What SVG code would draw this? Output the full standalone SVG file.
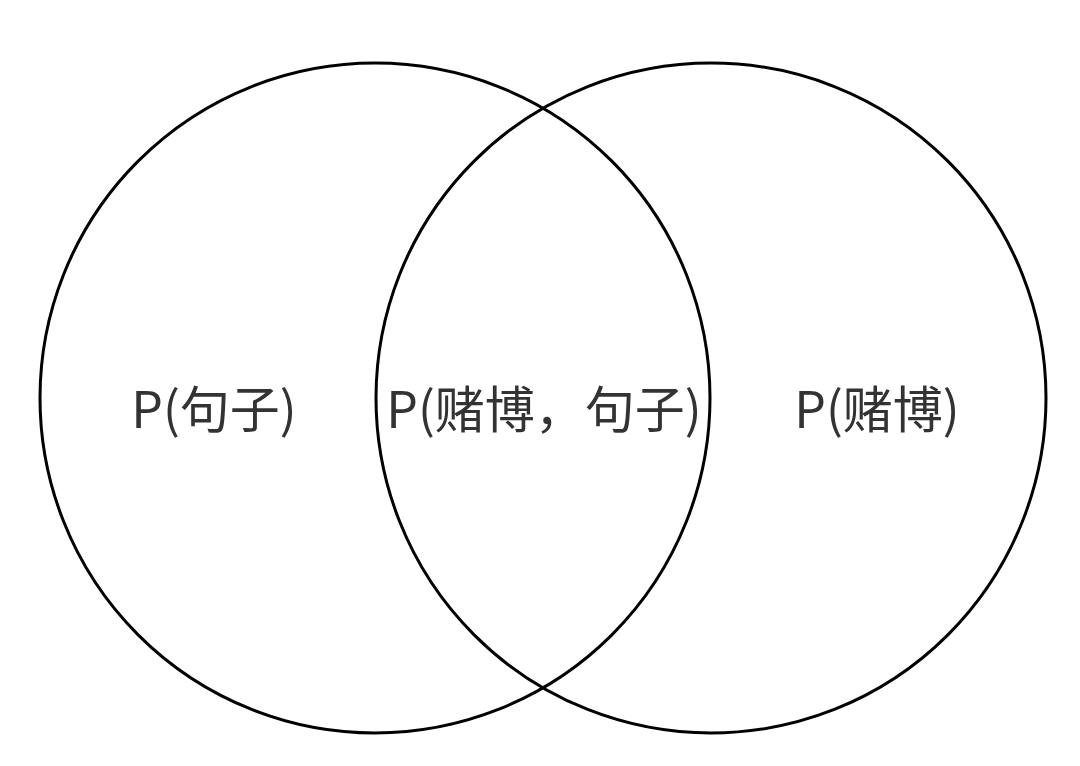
<svg xmlns="http://www.w3.org/2000/svg" width="1080" height="766" viewBox="0 0 1080 766">
<style>
.c{fill:none;stroke:#000;stroke-width:3}
.t{font-family:"Noto Sans CJK SC","Liberation Sans",sans-serif;font-size:50px;font-weight:400;fill:#333;text-anchor:middle}
</style>
<rect width="1080" height="766" fill="#fff"/>
<g id="left"><circle class="c" cx="375" cy="398" r="335"/><text class="t" x="214" y="428">P(句子)</text></g>
<g id="right"><circle class="c" cx="711" cy="398" r="335"/><text class="t" x="877" y="428">P(赌博)</text></g>
<g id="overlap"><text class="t" x="544" y="428">P(赌博，句子)</text></g>
<g id="connectors"/>
</svg>
